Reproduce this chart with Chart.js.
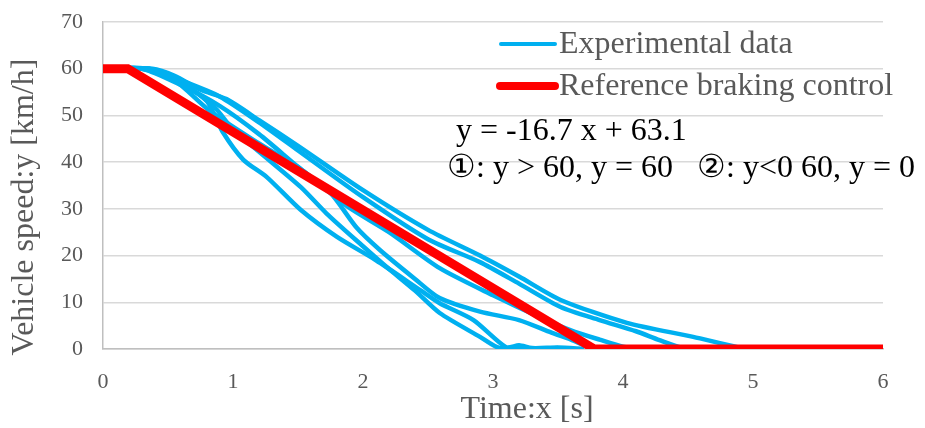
<!DOCTYPE html>
<html>
<head>
<meta charset="utf-8">
<script src="https://cdn.jsdelivr.net/npm/chart.js@4"></script>
<style>
  body { margin: 0; background: #fff; }
  #wrap { width: 925px; height: 428px; }
</style>
</head>
<body>
<div id="wrap"><canvas id="speedChart" width="925" height="428"></canvas></div>
<script>
// reference braking control: y = -16.7 x + 63.1, clipped to 0..60
const refTime = [0, 0.19, 3.78, 6];
const refSpeed = [60, 60, 0, 0];

// experimental runs
const timeA = [0, 0.38, 0.55, 0.75, 0.95, 1.2, 1.5, 2.0, 2.5, 2.9, 3.2, 3.52, 4.03, 4.54, 4.88, 5.0];
const speedA = [60, 60, 58.5, 55.5, 53.5, 49, 43.5, 34, 25.5, 20, 15.5, 10.5, 5.6, 2.6, 0.4, 0];

const timeB = [0, 0.35, 0.6, 0.9, 1.2, 1.5, 2.0, 2.5, 2.9, 3.2, 3.52, 3.82, 4.1, 4.28, 4.45, 4.6];
const speedB = [60, 60, 57.5, 54, 48.5, 42.5, 32.5, 23.5, 18.6, 14, 9, 6.2, 3.8, 1.9, 0.3, 0];

const timeC = [0, 0.3, 0.55, 0.82, 1.2, 1.52, 1.88, 2.2, 2.59, 3.0, 3.36, 3.6, 3.82, 4.0, 4.2];
const speedC = [60, 60, 57.5, 51, 44, 38.5, 30.5, 25, 17.3, 11.5, 6.8, 4, 2, 0.5, 0];

const timeD = [0, 0.3, 0.6, 0.9, 1.2, 1.5, 1.75, 1.95, 2.13, 2.4, 2.59, 2.9, 3.2, 3.45, 3.6, 3.75, 3.9];
const speedD = [60, 60, 56.5, 52, 46, 39, 33.4, 26, 21.2, 15, 10.9, 8, 6.2, 3.5, 2, 0.3, 0];

const timeE = [0, 0.35, 0.6, 0.8, 0.92, 1.08, 1.26, 1.52, 1.8, 2.1, 2.44, 2.59, 2.85, 3.1, 3.2, 3.3, 3.5, 3.7];
const speedE = [60, 60, 57, 53, 46.5, 40.5, 36.8, 29.8, 24, 19, 12.6, 9.8, 6.2, 0.4, 0.8, 0.2, 0.3, 0];

const timeF = [0, 0.35, 0.6, 0.85, 1.0, 1.21, 1.52, 1.72, 2.0, 2.18, 2.4, 2.59, 2.9, 3.05, 3.3, 3.5];
const speedF = [60, 60, 57, 52, 47, 42, 34.7, 29, 22, 17.6, 12.5, 7.7, 2.6, 0.2, 0, 0.2];

const xTicks = [0, 1, 2, 3, 4, 5, 6];
const yTicks = [0, 10, 20, 30, 40, 50, 60, 70];

const xTitle = "Time:x [s]";
const yTitle = "Vehicle speed:y [km/h]";
const legendLabels = ["Experimental data", "Reference braking control"];
const equationLines = ["y = -16.7 x + 63.1", "\u2460: y > 60, y = 60   \u2461: y<0 60, y = 0"];

const BLUE = "#00b0f0";
const RED = "#ff0000";
const GREY_TEXT = "#595959";
const SERIF = "'Liberation Serif', 'Times New Roman', serif";

function toPoints(xs, ys) {
  return xs.map((x, i) => ({ x: x, y: ys[i] }));
}

const runs = [
  [timeA, speedA], [timeB, speedB], [timeC, speedC],
  [timeD, speedD], [timeE, speedE], [timeF, speedF],
];

const datasets = [
  {
    label: legendLabels[1],
    data: toPoints(refTime, refSpeed),
    showLine: true,
    borderColor: RED,
    borderWidth: 9,
    pointRadius: 0,
    order: 0,
  },
];

runs.forEach(([xs, ys], idx) => {
  datasets.push({
    label: legendLabels[0] + " " + (idx + 1),
    data: toPoints(xs, ys),
    showLine: true,
    borderColor: BLUE,
    borderWidth: 4.5,
    pointRadius: 0,
    tension: 0.25,
    order: 1,
  });
});

// legend, equation and axis titles drawn by hand
const notesPlugin = {
  id: "notes",
  afterDraw(chart) {
    const ctx = chart.ctx;
    ctx.save();
    ctx.lineCap = "round";

    ctx.strokeStyle = BLUE;
    ctx.lineWidth = 4;
    ctx.beginPath();
    ctx.moveTo(501, 44);
    ctx.lineTo(555, 44);
    ctx.stroke();

    ctx.strokeStyle = RED;
    ctx.lineWidth = 8;
    ctx.beginPath();
    ctx.moveTo(500, 86);
    ctx.lineTo(555, 86);
    ctx.stroke();

    ctx.textBaseline = "middle";
    ctx.textAlign = "left";
    ctx.font = "32px " + SERIF;
    ctx.fillStyle = GREY_TEXT;
    ctx.fillText(legendLabels[0], 559, 45);
    ctx.fillText(legendLabels[1], 559, 87);

    ctx.fillStyle = "#000";
    ctx.fillText(equationLines[0], 456, 132);
    ctx.fillText(equationLines[1], 447, 169, 474);

    ctx.fillStyle = GREY_TEXT;
    ctx.textAlign = "center";
    ctx.fillText(xTitle, 527, 410);
    ctx.translate(25, 207);
    ctx.rotate(-Math.PI / 2);
    ctx.fillText(yTitle, 0, 0);
    ctx.restore();
  },
};

new Chart(document.getElementById("speedChart"), {
  type: "scatter",
  data: { datasets },
  options: {
    responsive: false,
    animation: false,
    layout: { padding: { top: 22, right: 42, bottom: 0, left: 0 } },
    plugins: {
      legend: { display: false },
      tooltip: { enabled: false },
    },
    scales: {
      x: {
        type: "linear",
        min: 0,
        max: 6,
        afterBuildTicks: (axis) => { axis.ticks = xTicks.map((v) => ({ value: v })); },
        afterFit: (axis) => { axis.height = 79; },
        grid: { display: false },
        border: { display: true, color: "#bfbfbf", width: 1.5 },
        ticks: {
          color: GREY_TEXT,
          font: { family: SERIF, size: 22 },
          padding: 12,
        },
      },
      y: {
        type: "linear",
        min: 0,
        max: 70,
        afterBuildTicks: (axis) => { axis.ticks = yTicks.map((v) => ({ value: v })); },
        afterFit: (axis) => {
          axis.width = 103;
          axis.paddingTop = 0;
          axis.paddingBottom = 0;
        },
        grid: { color: "#d9d9d9", lineWidth: 1.5, drawTicks: false },
        border: { display: true, color: "#bfbfbf", width: 1.5 },
        ticks: {
          color: GREY_TEXT,
          font: { family: SERIF, size: 22 },
          padding: 20,
        },
      },
    },
  },
  plugins: [notesPlugin],
});
</script>
</body>
</html>
